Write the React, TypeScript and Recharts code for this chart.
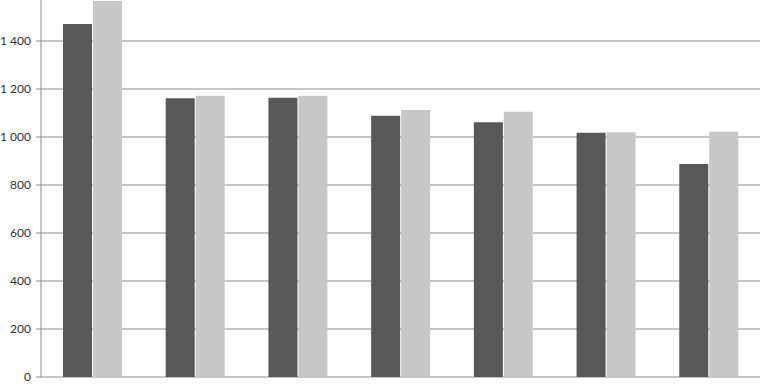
import { BarChart, Bar, XAxis, YAxis, CartesianGrid } from "recharts";

const categories = ["1", "2", "3", "4", "5", "6", "7"];
const seriesA = [1471, 1161, 1164, 1089, 1061, 1018, 887];
const seriesB = [1567, 1172, 1172, 1112, 1105, 1020, 1022];
const yTicks = [0, 200, 400, 600, 800, 1000, 1200, 1400];
const boundaryTicks = [0, 1, 2, 3, 4, 5, 6, 7];

const data = categories.map((c, i) => ({ name: c, a: seriesA[i], b: seriesB[i] }));

function formatTick(v: number): string {
  // 1400 -> "1 400"
  if (v < 1000) return String(v);
  return `${Math.floor(v / 1000)} ${String(v % 1000).padStart(3, "0")}`;
}

// tick mark only, drawn at the category boundaries
function EdgeTick(props: { x?: number; y?: number }) {
  const { x = 0, y = 0 } = props;
  return <line x1={x} x2={x} y1={y - 5} y2={y} stroke="#8a8a8a" strokeWidth={1} />;
}

export default function App() {
  return (
    <div style={{ position: "absolute", left: 0, top: -7 }}>
      <BarChart
        width={760}
        height={391}
        data={data}
        margin={{ top: 0, right: 0, left: 0, bottom: 0 }}
        barCategoryGap={22}
        barGap={1}
      >
        <CartesianGrid horizontal vertical={false} stroke="#8e8e8e" strokeWidth={1} />
        <XAxis xAxisId="cat" dataKey="name" hide />
        <XAxis
          xAxisId="edge"
          type="number"
          domain={[0, 7]}
          ticks={boundaryTicks}
          allowDataOverflow
          tick={<EdgeTick />}
          tickLine={false}
          tickSize={5}
          tickMargin={0}
          height={7}
          stroke="#8a8a8a"
          interval={0}
        />
        <YAxis
          domain={[0, 1600]}
          ticks={yTicks}
          allowDataOverflow
          interval={0}
          width={41}
          tickSize={5}
          tickMargin={5}
          stroke="#8a8a8a"
          tickFormatter={formatTick}
          tick={{ fontSize: 12, fill: "#333333", fontFamily: "Lato" }}
        />
        <Bar xAxisId="cat" dataKey="a" fill="#585858" isAnimationActive={false} />
        <Bar xAxisId="cat" dataKey="b" fill="#c8c8c8" isAnimationActive={false} />
      </BarChart>
    </div>
  );
}
